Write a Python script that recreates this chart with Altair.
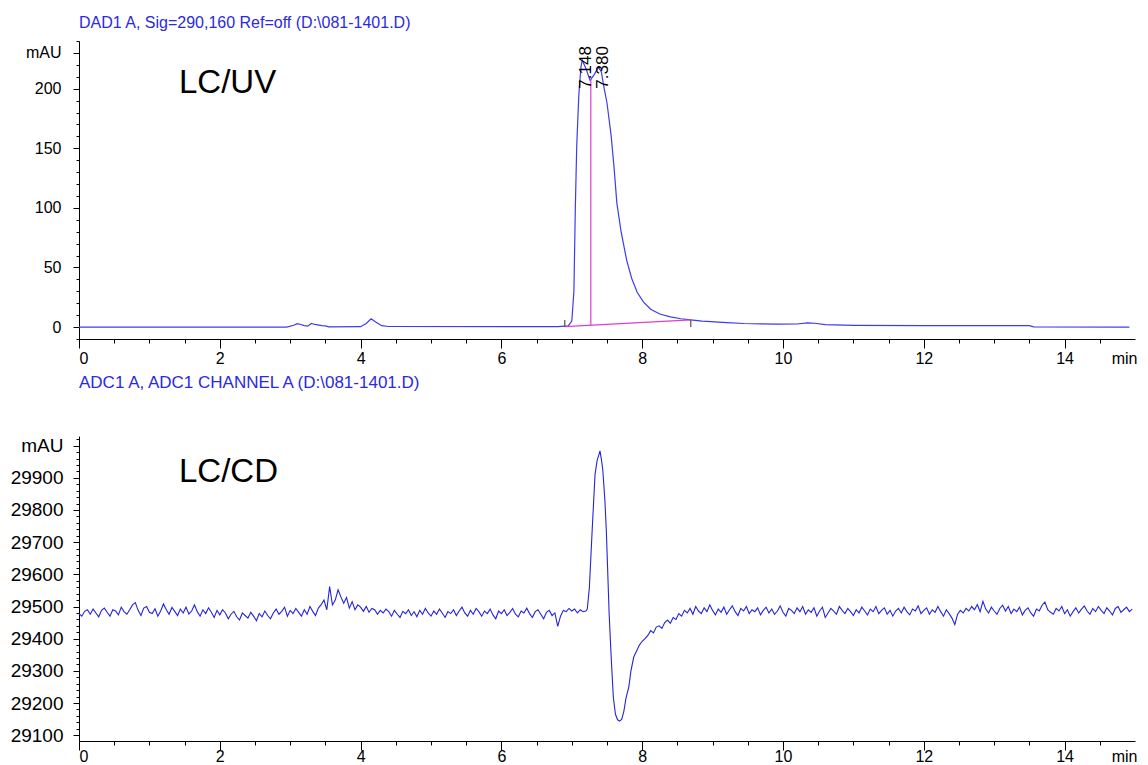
import altair as alt
import pandas as pd
import numpy as np

FONT = "Liberation Sans"
UV_BLUE = "#3c3cf2"
CD_BLUE = "#2424d8"
TITLE_BLUE = "#2a2ae0"
PINK = "#e03ccf"

# ---------------- LC/UV trace (DAD1 A) ----------------
uv_time = [0, 2.95, 3.05, 3.1, 3.15, 3.2, 3.25, 3.3, 3.35, 3.45, 3.5, 3.55, 4.0, 4.08,
           4.15, 4.22, 4.3, 4.4, 6.8, 6.95, 7.0, 7.03, 7.05, 7.07, 7.1, 7.13, 7.148,
           7.2, 7.26, 7.32, 7.38, 7.42, 7.46, 7.5, 7.56, 7.6, 7.64, 7.7, 7.78, 7.85,
           7.93, 8.02, 8.12, 8.25, 8.4, 8.55, 8.69, 8.85, 8.98, 9.2, 9.45, 9.7, 9.92,
           10.2, 10.35, 10.45, 10.6, 11.0, 12.0, 13.0, 13.5, 13.56, 14.92]
uv_signal = [0, 0, 1.5, 2.8, 2.2, 1.2, 0.8, 3.0, 2.2, 1.2, 1.0, 0.2, 0.3, 3.0,
             7.0, 4.0, 1.2, 0.5, 0.3, 1.0, 5, 30, 100, 152, 195, 218, 224,
             217, 207, 212, 218, 214, 200, 188, 160, 134, 104, 80, 56, 41,
             29, 21, 15, 11, 8.5, 7, 6, 5, 4.5, 3.7, 3.0, 2.7, 2.5,
             2.6, 3.6, 3.2, 2.0, 1.5, 1.3, 1.2, 1.2, 0.2, 0]

peak_times = [7.148, 7.380]
peak_labels = ["7.148", "7.380"]
label_level = [200, 200]

baseline_time = [6.9, 8.69]
baseline_signal = [0.3, 6.0]
drop_time = [7.27]
drop_low = [1.5]
drop_high = [208]
mark_time = [6.9, 8.69]
mark_low = [0, 0]
mark_high = [6, 6]

# ---------------- LC/CD trace (ADC1 A) ----------------
cd_noise_a = [
    29478, 29470, 29485, 29490, 29476, 29492, 29480, 29468, 29488, 29495,
    29482, 29470, 29490, 29486, 29474, 29498, 29484, 29476, 29490, 29505,
    29512, 29488, 29472, 29495, 29500, 29482, 29478, 29493, 29470, 29486,
    29508, 29490, 29476, 29497, 29485, 29472, 29492, 29480, 29498, 29477,
    29486, 29505, 29484, 29470, 29490, 29478, 29496, 29482, 29466, 29488,
    29474, 29490, 29480, 29462, 29476, 29485, 29468, 29458, 29480, 29472,
    29464, 29482, 29470, 29456, 29478, 29468, 29486, 29472, 29462, 29480,
    29492, 29476, 29485, 29498, 29470, 29488, 29478, 29494, 29482, 29470,
    29490, 29476, 29500, 29485, 29472, 29495, 29506, 29520, 29490, 29562,
    29505, 29520, 29552, 29530, 29510, 29528, 29495, 29515, 29490, 29505,
    29498, 29485, 29500, 29482, 29494, 29490, 29476, 29488, 29480, 29492,
    29484, 29470, 29488, 29476, 29466, 29485, 29478, 29490, 29472, 29484,
    29468, 29488, 29476, 29494, 29480, 29470, 29486, 29476, 29492, 29480,
    29466, 29484, 29478, 29490, 29472, 29486, 29498, 29480, 29470, 29488,
    29476, 29494, 29484, 29470, 29486, 29478, 29492, 29474, 29462, 29486,
    29478, 29490, 29472, 29482, 29494, 29476, 29468, 29486, 29480, 29495,
    29478, 29466, 29484, 29490, 29476, 29462, 29482, 29488, 29472, 29480,
    29438, 29470, 29488, 29484, 29494, 29486, 29492, 29480, 29490, 29484,
]
cd_peak_time = [7.20, 7.22, 7.25, 7.29, 7.33, 7.36, 7.38, 7.40, 7.42, 7.44, 7.47,
                7.49, 7.51, 7.53, 7.56, 7.59, 7.62, 7.65, 7.68, 7.71, 7.74, 7.77,
                7.81, 7.84, 7.88, 7.92, 7.96, 8.00, 8.04, 8.08, 8.12, 8.16, 8.20,
                8.24, 8.28, 8.32, 8.36, 8.40, 8.44, 8.48, 8.52, 8.56, 8.60]
cd_peak_signal = [29486, 29492, 29560, 29740, 29910, 29955, 29968, 29984, 29958,
                  29925, 29830, 29738, 29610, 29480, 29340, 29218, 29165, 29148,
                  29144, 29150, 29175, 29215, 29250, 29300, 29343, 29362, 29380,
                  29392, 29400, 29410, 29425, 29418, 29436, 29440, 29432, 29450,
                  29458, 29448, 29466, 29460, 29478, 29470, 29488]
cd_noise_c = [
    29480, 29494, 29476, 29500, 29486, 29478, 29496, 29484, 29505, 29488,
    29474, 29492, 29482, 29498, 29476, 29490, 29502, 29484, 29472, 29494,
    29486, 29500, 29478, 29490, 29484, 29496, 29474, 29488, 29498, 29480,
    29492, 29476, 29486, 29502, 29482, 29470, 29494, 29488, 29478, 29496,
    29484, 29500, 29476, 29490, 29482, 29496, 29470, 29486, 29498, 29466,
    29480, 29494, 29486, 29476, 29500, 29488, 29478, 29494, 29484, 29472,
    29490, 29480, 29498, 29486, 29474, 29492, 29484, 29500, 29478, 29488,
    29496, 29476, 29488, 29470, 29486, 29494, 29480, 29498, 29484, 29474,
    29492, 29486, 29502, 29478, 29488, 29496, 29476, 29490, 29482, 29500,
    29484, 29470, 29490, 29478, 29464, 29444, 29476, 29488, 29480, 29494,
    29486, 29500, 29490, 29506, 29484, 29516, 29492, 29480, 29498, 29486,
    29476, 29494, 29504, 29486, 29500, 29478, 29492, 29484, 29498, 29474,
    29488, 29496, 29480, 29470, 29492, 29486, 29504, 29514, 29490, 29482,
    29476, 29494, 29486, 29500, 29478, 29490, 29470, 29484, 29496, 29480,
    29492, 29502, 29486, 29476, 29494, 29484, 29500, 29488, 29478, 29496,
    29486, 29474, 29494, 29500, 29482, 29490, 29498, 29484, 29492,
]
cd_time_a = list(np.round(np.arange(len(cd_noise_a)) * 0.04, 2))
cd_time_c = list(np.round(8.64 + np.arange(len(cd_noise_c)) * 0.04, 2))

cd_time = cd_time_a + cd_peak_time + cd_time_c
cd_signal = cd_noise_a + cd_peak_signal + cd_noise_c

# tick positions
x_major = [0, 2, 4, 6, 8, 10, 12, 14]
x_minor = [i * 0.5 for i in range(30) if (i * 0.5) % 2 != 0]
uv_major = [0, 50, 100, 150, 200, 230]
uv_minor = [v for v in range(-10, 241, 10) if v not in (0, 50, 100, 150, 200, 230)]
cd_major = [29100, 29200, 29300, 29400, 29500, 29600, 29700, 29800, 29900, 30000]
cd_minor = [v for v in range(29080, 30021, 20) if v % 100 != 0]

# ---------------- frames ----------------
uv_df = pd.DataFrame({"t": uv_time, "v": uv_signal})
cd_df = pd.DataFrame({"t": cd_time, "v": cd_signal})
peak_df = pd.DataFrame({"t": peak_times, "v": label_level, "label": peak_labels})
base_df = pd.DataFrame({"t": baseline_time, "v": baseline_signal})
drop_df = pd.DataFrame({"t": drop_time, "lo": drop_low, "hi": drop_high})
mark_df = pd.DataFrame({"t": mark_time, "lo": mark_low, "hi": mark_high})

W = 1056
H_TOP = 298
H_BOT = 305
X_SCALE = alt.Scale(domain=[0, 15], nice=False, zero=False)
UV_SCALE = alt.Scale(domain=[-10, 240], nice=False, zero=False)
CD_SCALE = alt.Scale(domain=[29082, 30030], nice=False, zero=False)

common = dict(tickColor="black", domainColor="black", labelColor="black",
              labelFont=FONT, grid=False, labelOverlap=False)


def x_major_axis(pad):
    return alt.Axis(
        values=x_major, format="d", orient="bottom", tickSize=9,
        labelFontSize=16, labelPadding=pad,
        title="min", titleFont=FONT, titleFontSize=16, titleFontWeight="normal",
        titleColor="black", titleAnchor="end", titleAlign="right",
        titleBaseline="top", titleY=9 + pad, titleX=W + 2, **common,
    )


def x_minor_axis():
    return alt.Axis(values=x_minor, orient="bottom", tickSize=4, labels=False,
                    domain=False, title=None, tickColor="black", grid=False)


def y_major_axis(values, expr, size):
    return alt.Axis(values=values, orient="left", format="d", tickSize=6,
                    labelExpr=expr, labelFontSize=size, labelPadding=12 if size < 18 else 10,
                    title=None, **common)


def y_minor_axis(values):
    return alt.Axis(values=values, orient="left", tickSize=3, labels=False,
                    domain=False, title=None, tickColor="black", grid=False)


# ---------------- top panel ----------------
uv_line = alt.Chart(uv_df).mark_line(color=UV_BLUE, strokeWidth=1.2).encode(
    x=alt.X("t:Q", scale=X_SCALE, axis=x_major_axis(2)),
    y=alt.Y("v:Q", scale=UV_SCALE,
            axis=y_major_axis(uv_major, "datum.value == 230 ? 'mAU' : datum.label", 16)),
)
uv_minor_ticks = alt.Chart(uv_df).mark_line(opacity=0).encode(
    x=alt.X("t:Q", scale=X_SCALE, axis=x_minor_axis()),
    y=alt.Y("v:Q", scale=UV_SCALE, axis=y_minor_axis(uv_minor)),
)
base_line = alt.Chart(base_df).mark_line(color=PINK, strokeWidth=1.2).encode(
    x=alt.X("t:Q", scale=X_SCALE, axis=None), y=alt.Y("v:Q", scale=UV_SCALE, axis=None))
drop_line = alt.Chart(drop_df).mark_rule(color=PINK, strokeWidth=1.2).encode(
    x=alt.X("t:Q", scale=X_SCALE, axis=None), y=alt.Y("lo:Q", scale=UV_SCALE, axis=None), y2="hi:Q")
int_marks = alt.Chart(mark_df).mark_rule(color="#555555", strokeWidth=1.2).encode(
    x=alt.X("t:Q", scale=X_SCALE, axis=None), y=alt.Y("lo:Q", scale=UV_SCALE, axis=None), y2="hi:Q")
peak_text = alt.Chart(peak_df).mark_text(
    angle=270, align="left", baseline="middle", font=FONT, fontSize=17, color="black", dy=4
).encode(x=alt.X("t:Q", scale=X_SCALE, axis=None), y=alt.Y("v:Q", scale=UV_SCALE, axis=None),
         text="label:N")
uv_label = alt.Chart(pd.DataFrame({"t": [1.42], "v": [205], "s": ["LC/UV"]})).mark_text(
    align="left", baseline="middle", font=FONT, fontSize=33, color="black"
).encode(x=alt.X("t:Q", scale=X_SCALE, axis=None), y=alt.Y("v:Q", scale=UV_SCALE, axis=None),
         text="s:N")

top = alt.layer(uv_line, uv_minor_ticks, base_line, drop_line, int_marks, peak_text, uv_label).resolve_axis(
    x="independent", y="independent"
).properties(
    width=W, height=H_TOP,
    title=alt.TitleParams(
        text="DAD1 A, Sig=290,160 Ref=off (D:\\081-1401.D)", anchor="start", frame="group",
        font=FONT, fontSize=16, fontWeight="normal", color=TITLE_BLUE, offset=10,
    ),
)

# ---------------- bottom panel ----------------
cd_line = alt.Chart(cd_df).mark_line(color=CD_BLUE, strokeWidth=1.1).encode(
    x=alt.X("t:Q", scale=X_SCALE, axis=x_major_axis(-2)),
    y=alt.Y("v:Q", scale=CD_SCALE,
            axis=y_major_axis(cd_major, "datum.value == 30000 ? 'mAU' : datum.label", 19)),
)
cd_minor_ticks = alt.Chart(cd_df).mark_line(opacity=0).encode(
    x=alt.X("t:Q", scale=X_SCALE, axis=x_minor_axis()),
    y=alt.Y("v:Q", scale=CD_SCALE, axis=y_minor_axis(cd_minor)),
)
cd_label = alt.Chart(pd.DataFrame({"t": [1.42], "v": [29918], "s": ["LC/CD"]})).mark_text(
    align="left", baseline="middle", font=FONT, fontSize=33, color="black"
).encode(x=alt.X("t:Q", scale=X_SCALE, axis=None), y=alt.Y("v:Q", scale=CD_SCALE, axis=None),
         text="s:N")

bottom = alt.layer(cd_line, cd_minor_ticks, cd_label).resolve_axis(
    x="independent", y="independent"
).properties(
    width=W, height=H_BOT,
    title=alt.TitleParams(
        text="ADC1 A, ADC1 CHANNEL A (D:\\081-1401.D)", anchor="start", frame="group",
        font=FONT, fontSize=17, fontWeight="normal", color=TITLE_BLUE, offset=44,
    ),
)

chart = alt.vconcat(top, bottom, spacing=8).properties(
    padding={"left": 2, "top": 6, "right": 0, "bottom": 0}
).configure_view(strokeWidth=0)

chart.save("out.html", embed_options={"renderer": "svg", "actions": False})
